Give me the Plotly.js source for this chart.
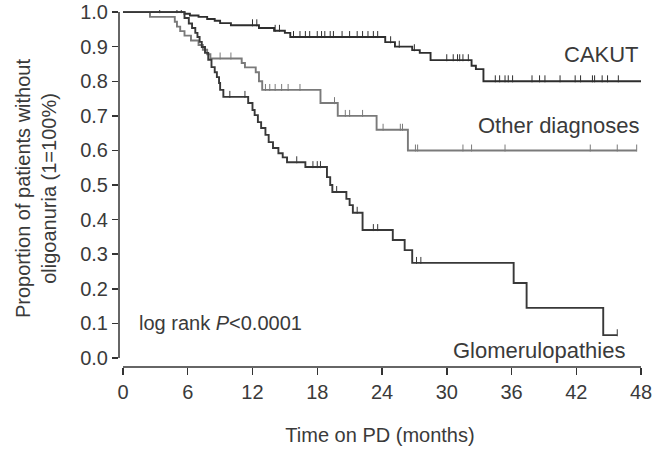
<!DOCTYPE html>
<html>
<head>
<meta charset="utf-8">
<script src="https://cdn.plot.ly/plotly-3.0.1.min.js"></script>
<style>html,body{margin:0;padding:0;background:#fff;}#chart{width:656px;height:455px;}</style>
</head>
<body>
<div id="chart"></div>
<script>
// Kaplan-Meier step data (time in months, proportion without oligoanuria)
const cakutT = [0, 5.7, 6.2, 7.0, 7.8, 8.5, 9.0, 10.0, 12.6, 14.0, 15.0, 15.5, 24.3, 25.2, 26.8, 27.5, 28.5, 32.3, 32.7, 33.4, 48];
const cakutS = [1.0, 0.995, 0.99, 0.986, 0.98, 0.975, 0.968, 0.962, 0.954, 0.946, 0.94, 0.928, 0.913, 0.90, 0.89, 0.882, 0.861, 0.845, 0.835, 0.80, 0.80];
const cakutCens = [3.4, 5.0, 5.4, 12.0, 12.4, 14.1, 14.5, 15.8, 16.4, 16.9, 17.3, 18.0, 18.4, 18.7, 19.2, 19.5, 20.3, 21.0, 21.7, 22.2, 22.7, 23.2, 23.6, 24.8, 25.6, 27.0, 30.0, 30.6, 31.0, 31.2, 31.5, 32.0, 34.5, 34.9, 35.4, 35.7, 36.1, 37.9, 38.6, 39.1, 40.5, 41.9, 42.4, 43.5, 43.7, 44.4, 44.9, 45.9];

const otherT = [0, 2.5, 4.8, 5.0, 5.3, 5.7, 6.3, 7.0, 7.4, 7.8, 8.1, 11.0, 11.3, 12.3, 12.6, 12.9, 18.3, 19.9, 23.5, 26.4, 47.6];
const otherS = [1.0, 0.986, 0.972, 0.958, 0.945, 0.932, 0.918, 0.905, 0.891, 0.878, 0.866, 0.853, 0.840, 0.826, 0.80, 0.775, 0.737, 0.70, 0.66, 0.60, 0.60];
const otherCens = [9.0, 10.0, 13.2, 13.6, 14.1, 14.7, 15.3, 16.4, 19.6, 20.6, 21.0, 22.2, 24.1, 25.7, 25.9, 27.1, 27.3, 31.5, 32.3, 35.4, 43.3, 45.8, 47.6];

const glomT = [0, 5.7, 6.1, 6.4, 6.7, 6.9, 7.1, 7.3, 7.6, 7.9, 8.2, 8.5, 8.7, 8.9, 9.0, 9.3, 11.6, 12.0, 12.2, 12.5, 12.8, 13.2, 13.5, 13.9, 14.4, 14.8, 15.2, 16.9, 18.9, 19.2, 19.4, 20.7, 21.0, 21.3, 22.2, 25.0, 26.1, 26.8, 36.2, 37.4, 44.5, 45.8];
const glomS = [1.0, 0.983, 0.967, 0.954, 0.94, 0.928, 0.914, 0.899, 0.882, 0.862, 0.841, 0.826, 0.812, 0.795, 0.775, 0.755, 0.737, 0.717, 0.702, 0.682, 0.665, 0.645, 0.624, 0.607, 0.592, 0.58, 0.566, 0.552, 0.523, 0.50, 0.48, 0.46, 0.442, 0.42, 0.37, 0.341, 0.312, 0.275, 0.217, 0.145, 0.066, 0.066];
const glomCens = [9.9, 11.3, 16.1, 17.6, 18.0, 18.3, 19.8, 21.7, 23.2, 23.6, 27.2, 27.6, 45.8];

const groupNames = ['CAKUT', 'Other diagnoses', 'Glomerulopathies'];
const xTicks = [0, 6, 12, 18, 24, 30, 36, 42, 48];
const yTicks = [0, 0.1, 0.2, 0.3, 0.4, 0.5, 0.6, 0.7, 0.8, 0.9, 1.0];

const FONT = 'Liberation Sans, Arial, Helvetica, sans-serif';
const TXT = '#3a3a3a';

function stepAt(T, S, t) {
  let v = S[0];
  for (let i = 0; i < T.length; i++) { if (T[i] <= t) v = S[i]; }
  return v;
}
function curve(T, S, color, name) {
  return {x: T, y: S, type: 'scatter', mode: 'lines', name: name,
    line: {shape: 'hv', color: color, width: 1.9}, hoverinfo: 'skip'};
}
function cens(T, S, C, color) {
  return {x: C, y: C.map(c => stepAt(T, S, c) + 0.007), type: 'scatter', mode: 'markers',
    marker: {symbol: 'line-ns', size: 5, line: {color: color, width: 1}}, hoverinfo: 'skip'};
}

const cCol = '#2e2e2e', oCol = '#7a7a7a', gCol = '#383838';
const data = [
  curve(cakutT, cakutS, cCol, groupNames[0]),
  cens(cakutT, cakutS, cakutCens, cCol),
  curve(otherT, otherS, oCol, groupNames[1]),
  cens(otherT, otherS, otherCens, oCol),
  curve(glomT, glomS, gCol, groupNames[2]),
  cens(glomT, glomS, glomCens, gCol)
];

const layout = {
  width: 656, height: 455,
  margin: {l: 119, r: 15, t: 10, b: 88},
  paper_bgcolor: '#fff', plot_bgcolor: '#fff',
  showlegend: false,
  font: {family: FONT, color: TXT, size: 20},
  xaxis: {
    range: [-0.37, 48], tickvals: xTicks, ticktext: xTicks.map(String),
    ticks: 'outside', ticklen: 7, tickwidth: 1.5, tickcolor: '#333',
    showline: false, showgrid: false, zeroline: false,
    tickfont: {family: FONT, size: 20, color: TXT},
    title: {text: 'Time on PD (months)', font: {family: FONT, size: 20, color: TXT}, standoff: 25}
  },
  yaxis: {
    range: [-0.026, 1.006], tickvals: yTicks, ticktext: yTicks.map(v => v.toFixed(1)),
    ticks: 'outside', ticklen: 6, tickwidth: 1.5, tickcolor: '#333',
    showline: false, showgrid: false, zeroline: false,
    tickfont: {family: FONT, size: 20, color: TXT},
    title: {text: 'Proportion of patients without<br>oligoanuria (1=100%)', font: {family: FONT, size: 20, color: TXT}, standoff: 18}
  },
  shapes: [
    {type: 'line', xref: 'x', yref: 'paper', x0: 0, x1: 48, y0: 0, y1: 0, line: {color: '#333', width: 1.5}},
    {type: 'line', xref: 'paper', yref: 'y', x0: 0, x1: 0, y0: 0, y1: 1, line: {color: '#333', width: 1.5}}
  ],
  annotations: [
    {x: 48, y: 0.876, xref: 'x', yref: 'y', text: groupNames[0], showarrow: false, xanchor: 'right', yanchor: 'middle', font: {family: FONT, size: 22, color: TXT}},
    {x: 48, y: 0.673, xref: 'x', yref: 'y', text: groupNames[1], showarrow: false, xanchor: 'right', yanchor: 'middle', font: {family: FONT, size: 22, color: TXT}},
    {x: 46.7, y: 0.023, xref: 'x', yref: 'y', text: groupNames[2], showarrow: false, xanchor: 'right', yanchor: 'middle', font: {family: FONT, size: 22, color: TXT}},
    {x: 1.3, y: 0.10, xref: 'x', yref: 'y', text: 'log rank <i>P</i>&lt;0.0001', showarrow: false, xanchor: 'left', yanchor: 'middle', font: {family: FONT, size: 20, color: TXT}}
  ]
};

Plotly.newPlot('chart', data, layout, {displayModeBar: false, staticPlot: true});
</script>
</body>
</html>
